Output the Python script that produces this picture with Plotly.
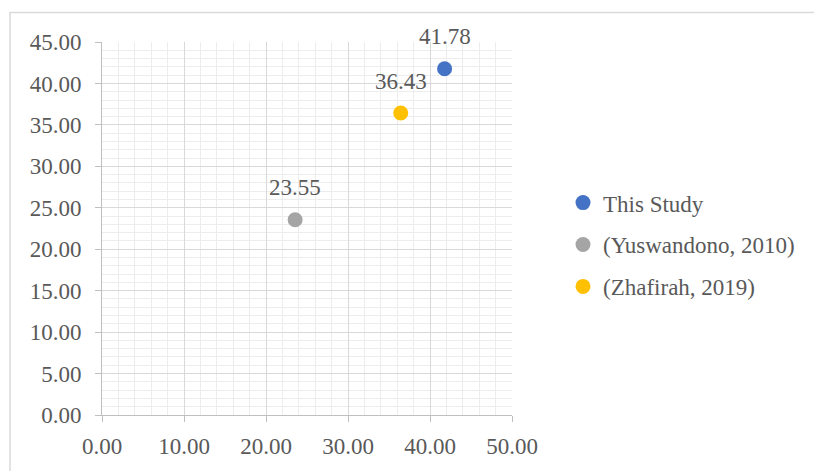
import plotly.graph_objects as go

# Series shown in the scatter chart
series_names = ["This Study", "(Yuswandono, 2010)", "(Zhafirah, 2019)"]
x_values = [41.78, 23.55, 36.43]
y_values = [41.78, 23.55, 36.43]
colors = ["#4472C4", "#A5A5A5", "#FFC000"]

W, H = 814, 471
L, R, T, B = 102, 302, 42, 51
FONT = "Liberation Serif, Times New Roman, serif"
TEXT = "#595959"

fig = go.Figure()
for i, (name, xv, yv, c) in enumerate(zip(series_names, x_values, y_values, colors)):
    fig.add_trace(go.Scatter(
        x=[xv], y=[yv], mode="markers", name=name,
        legendgroup=f"g{i}",
        marker=dict(size=15, color=c, line=dict(width=0)),
        cliponaxis=False,
    ))
    fig.add_annotation(
        x=xv, y=yv, text=f"{yv:.2f}", showarrow=False,
        yshift=32, font=dict(family=FONT, size=23, color=TEXT),
    )

axis_common = dict(
    showgrid=True, gridcolor="#D9D9D9", gridwidth=1,
    showline=True, linecolor="#BFBFBF", linewidth=1,
    ticks="outside", ticklen=6, tickcolor="#BFBFBF",
    tickformat=".2f", zeroline=False,
    tickfont=dict(family=FONT, size=23, color=TEXT),
)

fig.update_xaxes(range=[0, 50], dtick=10, tick0=0,
                 minor=dict(dtick=2, showgrid=True, gridcolor="#EDEDED", gridwidth=1),
                 ticklabelstandoff=4, mirror=False, **axis_common)
fig.update_yaxes(range=[0, 45], dtick=5, tick0=0,
                 minor=dict(dtick=1, showgrid=True, gridcolor="#EDEDED", gridwidth=1),
                 ticklabelstandoff=9, **axis_common)

# light frame around the chart area
def px_x(p):
    return (p - L) / (W - L - R)

def px_y(p):
    return (H - B - p) / (H - T - B)

fig.add_shape(type="rect", xref="paper", yref="paper",
              x0=px_x(10), x1=px_x(830), y0=px_y(12), y1=px_y(490),
              line=dict(color="#D9D9D9", width=1.5), fillcolor="rgba(0,0,0,0)",
              layer="below")

fig.update_layout(
    width=W, height=H,
    margin=dict(l=L, r=R, t=T, b=B),
    paper_bgcolor="white", plot_bgcolor="white",
    font=dict(family=FONT, size=23, color=TEXT),
    showlegend=True,
    legend=dict(
        x=px_x(563), y=px_y(183), xanchor="left", yanchor="top",
        font=dict(family=FONT, size=23, color=TEXT),
        tracegroupgap=9, itemwidth=30, bgcolor="rgba(0,0,0,0)",
    ),
)

fig.write_html("out.html")
